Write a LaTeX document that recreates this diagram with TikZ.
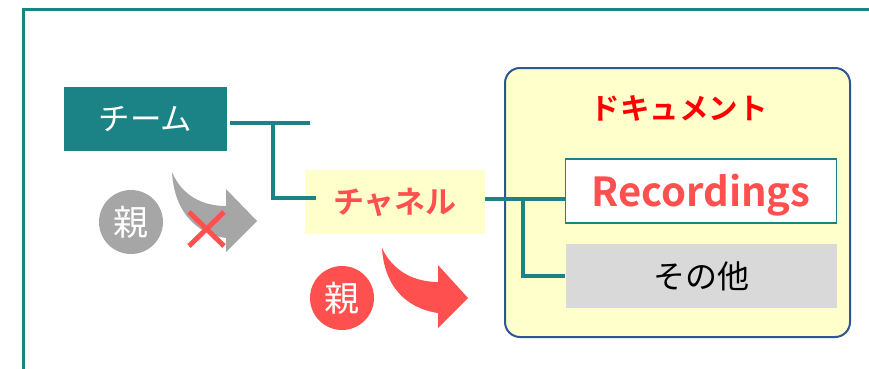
\documentclass[tikz,border=0pt]{standalone}
\usepackage{fontspec}
\setmainfont{Noto Sans CJK JP}
\newfontfamily\jpb{Noto Sans CJK JP Bold}
\definecolor{teal1}{HTML}{1B8385}
\definecolor{lyel}{HTML}{FFFFCC}
\definecolor{dblue}{HTML}{2F5597}
\definecolor{lred}{HTML}{FF5050}
\definecolor{gry}{HTML}{A6A6A6}
\definecolor{lgry}{HTML}{D9D9D9}
\tikzset{
  conn/.style={draw=teal1, line width=4pt},
  badge/.style={circle, minimum size=64pt, inner sep=0pt, text=white, font=\fontsize{35}{35}\selectfont},
  itembox/.style={minimum width=271pt, minimum height=64pt, inner sep=0pt},
}
\begin{document}
\begin{tikzpicture}[x=1pt,y=-1pt]
\useasboundingbox (0,0) rectangle (869,368);
% outer frame
\draw[teal1, line width=3pt] (23,370) -- (23,9) -- (872,9);
% document container
\node[draw=dblue, line width=2pt, fill=lyel, rounded corners=15pt, minimum width=345pt, minimum height=269pt, inner sep=0pt] (doc) at (677.5,202.5) {};
\node[text=red, font=\jpb\fontsize{29.5}{29.5}\selectfont] (doct) at (679,108) {ドキュメント};
% team
\node[fill=teal1, minimum width=163pt, minimum height=64pt, inner sep=0pt, text=white, font=\fontsize{31.5}{31.5}\selectfont] (team) at (145.5,119) {チーム};
% channel
\node[fill=lyel, minimum width=180pt, minimum height=64pt, inner sep=0pt, text=lred, font=\jpb\fontsize{31}{31}\selectfont] (chan) at (395,202) {チャネル};
% items
\node[itembox, draw=teal1, line width=1.5pt, fill=white] (rec) at (701,191) {};
\node[text=lred, font=\jpb\fontsize{40}{40}\selectfont, inner sep=0pt] (rect) at (701,195) {Recordings};
\node[itembox, fill=lgry, font=\fontsize{32}{32}\selectfont] (oth) at (701,276) {その他};
% connectors
\coordinate (tend) at (310,123);
\coordinate (tj) at (273,123);
\coordinate (cj) at (316,198);
\coordinate (dj) at (523,199);
\draw[conn] (team.east |- tend) ++(3,0) -- (tend);
\draw[conn] (tj) -- (tj |- cj) -- (cj);
\draw[conn] (chan.east |- dj) -- (rec.west |- dj);
\draw[conn] (dj) -- (dj |- oth.west) -- (oth.west);
% badges
\node[badge, fill=gry] (b1) at (131,222) {親};
\node[badge, fill=lred] (b2) at (342,298) {親};
% gray curved arrow
\fill[gry] (172,172) .. controls (182,196) and (203,206) .. (226,206)
  -- (226,189) -- (257,221) -- (226,252) -- (226,238)
  .. controls (195,234) and (174,210) .. (172,172) -- cycle;
% red X
\coordinate (x1) at (189,212); \coordinate (x2) at (224,246);
\coordinate (x3) at (224,212); \coordinate (x4) at (189,246);
\draw[lred, line width=5pt] (x1) -- (x2);
\draw[lred, line width=5pt] (x3) -- (x4);
% red curved arrow
\fill[lred] (382,248) .. controls (392,270) and (413,282) .. (438,282)
  -- (438,265) -- (468,298) -- (438,328) -- (438,313)
  .. controls (404,308) and (384,284) .. (382,248) -- cycle;
\end{tikzpicture}
\end{document}
